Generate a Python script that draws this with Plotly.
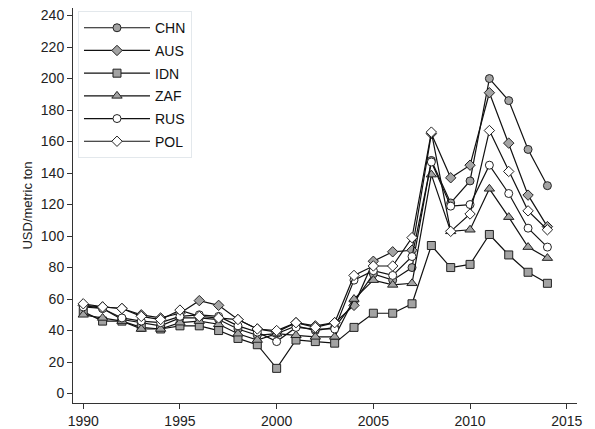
import plotly.graph_objects as go

years = list(range(1990, 2015))

chn = [56, 54, 47, 45, 43, 48, 48, 47, 41, 37, 38, 43, 40, 42, 58, 76, 72, 80, 148, 121, 135, 200, 186, 155, 132]
aus = [56, 55, 54, 50, 48, 51, 59, 56, 47, 41, 39, 45, 43, 45, 56, 84, 90, 91, 165, 137, 145, 191, 159, 126, 106]
idn = [52, 46, 46, 42, 41, 43, 43, 40, 35, 31, 16, 34, 33, 32, 42, 51, 51, 57, 94, 80, 82, 101, 88, 77, 70]
zaf = [50, 48, 46, 41, 41, 45, 46, 44, 38, 34, 38, 37, 36, 36, 60, 72, 69, 70, 139, 103, 104, 130, 112, 93, 86]
rus = [55, 54, 48, 46, 45, 49, 50, 49, 43, 39, 33, 42, 41, 41, 72, 78, 75, 87, 147, 119, 120, 145, 127, 105, 93]
pol = [57, 55, 54, 49, 47, 53, 49, 48, 47, 41, 40, 45, 42, 45, 75, 81, 81, 99, 166, 103, 114, 167, 141, 116, 104]

series_names = ["CHN", "AUS", "IDN", "ZAF", "RUS", "POL"]
series_vals = [chn, aus, idn, zaf, rus, pol]
symbols = ["circle", "diamond", "square", "triangle-up", "circle", "diamond"]
fills = ["#a3a3a3", "#a3a3a3", "#a3a3a3", "#a3a3a3", "#ffffff", "#ffffff"]
sizes = [8, 8, 8, 9, 8, 8]

y_ticks = list(range(0, 241, 20))
x_ticks = [1990, 1995, 2000, 2005, 2010, 2015]

fig = go.Figure()
for name, vals, sym, fc, sz in zip(series_names, series_vals, symbols, fills, sizes):
    fig.add_trace(go.Scatter(
        x=years, y=vals, name=name, mode="lines+markers", legendgroup=name,
        line=dict(color="#111111", width=1.2),
        marker=dict(symbol=sym, size=sz, color=fc, line=dict(color="#222222", width=1)),
    ))

fig.update_layout(
    width=587, height=421,
    margin=dict(l=65, r=18, t=0, b=26),
    paper_bgcolor="white", plot_bgcolor="white",
    font=dict(family="Liberation Sans, Arial, sans-serif", size=13, color="#222222"),
    showlegend=True,
    legend=dict(
        x=0.0099, y=0.992, xanchor="left", yanchor="top",
        bordercolor="#e3e8ec", borderwidth=1, bgcolor="white",
        font=dict(size=14, color="#111111"),
        itemwidth=66, tracegroupgap=1.5,
    ),
    xaxis=dict(
        range=[1989.47, 2015.53], tickvals=x_ticks, ticks="outside", ticklen=5,
        tickcolor="#333333", showline=True, linecolor="#333333", linewidth=1,
        showgrid=False, zeroline=False, tickfont=dict(size=14), automargin=False,
        ticklabeloverflow="allow",
    ),
    yaxis=dict(
        range=[-6, 244.8], tickvals=y_ticks, ticks="outside", ticklen=5,
        tickcolor="#333333", showline=True, linecolor="#333333", linewidth=1,
        showgrid=False, zeroline=False, tickfont=dict(size=14), automargin=False,
        ticklabeloverflow="allow",
        title=dict(text="USD/metric ton", font=dict(size=13), standoff=5),
    ),
)

fig.write_html("out.html")
